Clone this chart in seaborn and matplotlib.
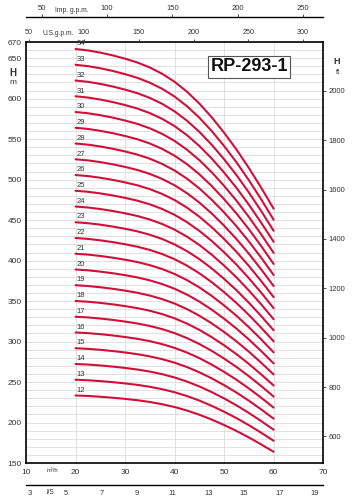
import numpy as np
import pandas as pd
import matplotlib
matplotlib.use('Agg')
import matplotlib.pyplot as plt
import seaborn as sns

# pump curves: one line per number of stages, head read per stage
stages = list(range(12, 35))
flow_m3h = [20, 22.5, 25, 27.5, 30, 32.5, 35, 37.5, 40, 42.5, 45, 47.5, 50, 52.5, 55, 57.5, 60]
head_per_stage = [19.45, 19.4, 19.32, 19.22, 19.1, 18.96, 18.78, 18.55, 18.26, 17.9,
                  17.47, 16.97, 16.41, 15.8, 15.13, 14.41, 13.65]

m_ticks = [150, 200, 250, 300, 350, 400, 450, 500, 550, 600, 650, 670]
ft_ticks = [600, 800, 1000, 1200, 1400, 1600, 1800, 2000]
m3h_ticks = [10, 20, 30, 40, 50, 60, 70]
ls_ticks = [3, 5, 7, 9, 11, 13, 15, 17, 19]
usgpm_ticks = [50, 100, 150, 200, 250, 300]
impgpm_ticks = [50, 100, 150, 200, 250]
model = 'RP-293-1'

rows = []
for n in stages:
    for q, h in zip(flow_m3h, head_per_stage):
        rows.append({'stage': n, 'q': q, 'H': n * h})
df = pd.DataFrame(rows)

sns.set_style('white')
plt.rcParams['font.family'] = ['Liberation Sans', 'DejaVu Sans']

red = '#d0103a'
grid_c = '#dcdcdc'
txt_c = '#333333'

fig = plt.figure(figsize=(3.52, 5.0), dpi=100)
ax = fig.add_axes([0.074, 0.074, 0.844, 0.842])

sns.lineplot(data=df, x='q', y='H', hue='stage', palette=[red] * len(stages),
             legend=False, linewidth=1.5, ax=ax, sort=False)

for n in stages:
    ax.text(20.2, n * head_per_stage[0] + 6.5, str(n), fontsize=5.5,
            color=txt_c, ha='left', va='center')

ax.set_xlim(10, 70)
ax.set_ylim(150, 670)
ax.set_xticks(m3h_ticks)
ax.set_yticks(m_ticks)
ax.set_yticks(np.arange(150, 671, 10), minor=True)
ax.grid(True, which='both', axis='y', color=grid_c, linewidth=0.6)
ax.grid(True, which='major', axis='x', color=grid_c, linewidth=0.6)
ax.set_axisbelow(True)
ax.tick_params(axis='both', which='both', length=0, labelsize=6, colors=txt_c)
ax.tick_params(axis='x', pad=4)
ax.tick_params(axis='y', pad=3)
ax.set_xlabel('')
ax.set_ylabel('')
for s in ax.spines.values():
    s.set_color('black')
    s.set_linewidth(1.2)

# U.S. g.p.m. on top spine
ax_top = ax.twiny()
ax_top.set_xlim(47.3, 318.2)
ax_top.set_xticks(usgpm_ticks)
ax_top.tick_params(axis='x', direction='out', length=2.5, width=0.6, pad=1.5,
                   labelsize=5.2, colors=txt_c)
for s in ax_top.spines.values():
    s.set_visible(False)

# H ft on right
ax_r = ax.twinx()
ax_r.set_ylim(150 / 0.3048, 670 / 0.3048)
ax_r.set_yticks(ft_ticks)
ax_r.tick_params(axis='y', direction='out', length=2.5, width=0.6, pad=1.5,
                 labelsize=5.5, colors=txt_c)
for s in ax_r.spines.values():
    s.set_visible(False)

# l/s scale under the chart
ax_ls = fig.add_axes([0.074, 0.030, 0.844, 0.0001])
ax_ls.set_xlim(10 / 3.6, 70 / 3.6)
ax_ls.set_xticks(ls_ticks)
ax_ls.set_yticks([])
for k in ['top', 'left', 'right']:
    ax_ls.spines[k].set_visible(False)
ax_ls.spines['bottom'].set_linewidth(1.0)
ax_ls.spines['bottom'].set_color('black')
ax_ls.tick_params(axis='x', direction='out', length=2.5, width=0.6, pad=1,
                  labelsize=5.5, colors=txt_c)
ax_ls.patch.set_visible(False)

# Imp. g.p.m. scale above the chart
ax_imp = fig.add_axes([0.074, 0.966, 0.844, 0.0001])
ax_imp.set_xlim(38.0, 265.3)
ax_imp.set_xticks(impgpm_ticks)
ax_imp.set_yticks([])
for k in ['bottom', 'left', 'right']:
    ax_imp.spines[k].set_visible(False)
ax_imp.spines['top'].set_linewidth(1.0)
ax_imp.spines['top'].set_color('black')
ax_imp.xaxis.set_ticks_position('top')
ax_imp.xaxis.set_label_position('top')
ax_imp.tick_params(axis='x', direction='out', length=2.5, width=0.6, pad=1,
                   labelsize=5.5, colors=txt_c)
ax_imp.patch.set_visible(False)

# unit labels
fig.text(72 / 352, 1 - 10 / 500, 'Imp. g.p.m.', fontsize=4.8, color=txt_c, ha='center', va='center')
fig.text(58 / 352, 1 - 33 / 500, 'U.S.g.p.m.', fontsize=4.8, color=txt_c, ha='center', va='center')
fig.text(52 / 352, 1 - 470 / 500, 'm³/h', fontsize=4.2, color=txt_c, ha='center', va='center')
fig.text(50 / 352, 1 - 493 / 500, 'l/S', fontsize=4.8, color=txt_c, ha='center', va='center')
fig.text(13 / 352, 1 - 73 / 500, 'H', fontsize=7, fontweight='bold', color=txt_c, ha='center', va='center')
fig.text(13 / 352, 1 - 83 / 500, 'm', fontsize=6, color=txt_c, ha='center', va='center')
fig.text(337 / 352, 1 - 61 / 500, 'H', fontsize=6.5, fontweight='bold', color=txt_c, ha='center', va='center')
fig.text(338 / 352, 1 - 72 / 500, 'ft', fontsize=5.5, color=txt_c, ha='center', va='center')

ax.text(0.751, 0.941, model, transform=ax.transAxes, fontsize=13, fontweight='bold',
        color='#111111', ha='center', va='center',
        bbox=dict(boxstyle='square,pad=0.12', facecolor='white', edgecolor='#555555', linewidth=0.8))

fig.savefig('out.png', dpi=100)
